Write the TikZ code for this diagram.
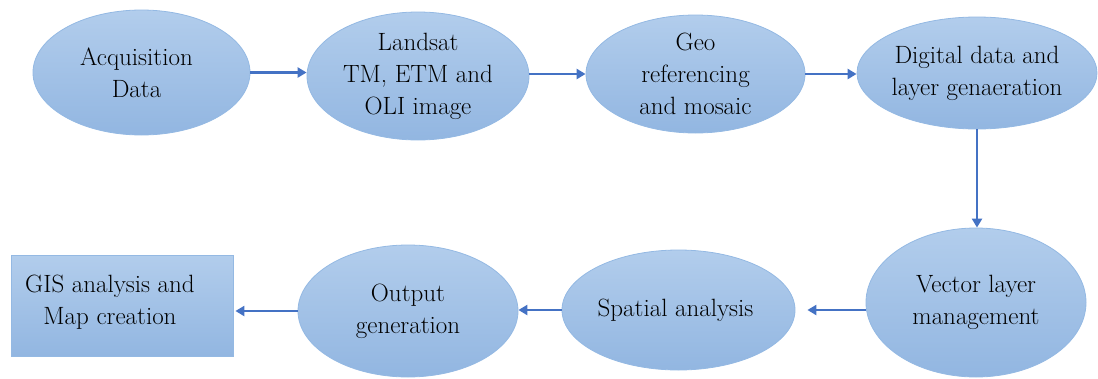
\documentclass[tikz,border=0pt]{standalone}
\usetikzlibrary{shapes.geometric,arrows.meta}
\definecolor{fillTop}{HTML}{B2CDEC}
\definecolor{fillBot}{HTML}{92B6E1}
\definecolor{edgeC}{HTML}{94B9E3}
\definecolor{arrC}{HTML}{4472C4}
\tikzset{
  stage/.style={ellipse, inner sep=0pt, top color=fillTop, bottom color=fillBot,
    draw=edgeC, line width=0.8pt},
  gisbox/.style={rectangle, inner sep=0pt, top color=fillTop, bottom color=fillBot,
    draw=edgeC, line width=0.8pt},
  txt/.style={align=center, inner sep=0pt, text=black,
    font=\rmfamily\fontsize{25}{32}\selectfont},
  flow/.style={draw=arrC, line width=2.6pt, -{Triangle[length=9pt,width=10pt]}},
}
\begin{document}
\begin{tikzpicture}[x=1pt,y=-1pt]
\useasboundingbox (0,0) rectangle (1098,378);
% top row
\node[stage, minimum width=217pt, minimum height=125pt,
  label={[txt,xshift=-5pt]center:{Acquisition\\Data}}] (acq) at (141.5,72.5) {};
\node[stage, minimum width=222pt, minimum height=128pt,
  label={[txt]center:{Landsat\\TM, ETM and\\OLI image}}] (lan) at (418,76) {};
\node[stage, minimum width=219pt, minimum height=118pt,
  label={[txt]center:{Geo\\referencing\\and mosaic}}] (geo) at (695.5,74) {};
\node[stage, minimum width=240pt, minimum height=112pt,
  label={[txt]center:{Digital data and\\layer genaeration}}] (dig) at (977,73) {};
% bottom row
\node[stage, minimum width=220pt, minimum height=149pt,
  label={[txt]center:{Vector layer\\management}}] (vec) at (976,302.5) {};
\node[stage, minimum width=233pt, minimum height=120pt,
  label={[txt,xshift=-3pt]center:{Spatial analysis}}] (spa) at (678.5,310) {};
\node[stage, minimum width=220pt, minimum height=132pt,
  label={[txt]center:{Output\\generation}}] (out) at (408,311) {};
\node[gisbox, minimum width=222pt, minimum height=101pt] (gis) at (122,305.5) {};
\node[txt] (gistxt) at (110,302) {GIS analysis and\\Map creation};
% connectors
\draw[flow] (acq.east) -- (acq.east -| lan.west);
\draw[flow] (geo.west -| lan.east) -- (geo.west);
\draw[flow] (geo.east) -- (geo.east -| dig.west);
\draw[flow] (dig.south) -- (dig.south |- vec.north);
\draw[flow] (vec.west |- spa.east) -- ([xshift=12pt]spa.east);
\draw[flow] (spa.west) -- (spa.west -| out.east);
\draw[flow] (out.west) -- ([xshift=2pt]out.west -| gis.east);
\end{tikzpicture}
\end{document}
